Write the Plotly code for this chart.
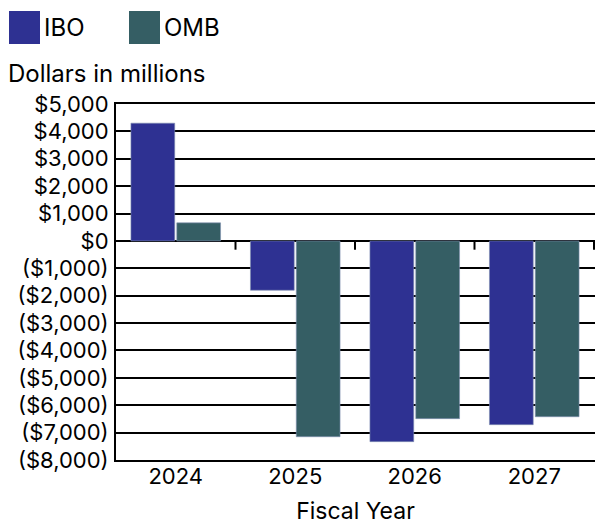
import plotly.graph_objects as go

years = ["2024", "2025", "2026", "2027"]
ibo = [4300, -1800, -7330, -6710]
omb = [660, -7150, -6490, -6420]
series_names = ["IBO", "OMB"]
series_colors = ["#2E3192", "#355E64"]
tick_vals = [5000, 4000, 3000, 2000, 1000, 0, -1000, -2000, -3000, -4000, -5000, -6000, -7000, -8000]
tick_labels = ["$5,000", "$4,000", "$3,000", "$2,000", "$1,000", "$0", "($1,000)", "($2,000)",
               "($3,000)", "($4,000)", "($5,000)", "($6,000)", "($7,000)", "($8,000)"]
boundary_ticks = [0.5, 1.5, 2.5, 3.5]

FONT = "Inter"
W, H = 597, 525
L, R, T, B = 116, 2, 104, 65
PW, PH = W - L - R, H - T - B
Y_MIN, Y_MAX = -8000, 5000


def px(x):
    return (x - L) / PW


def py(y):
    return (H - B - y) / PH


fig = go.Figure()
for name, vals, col in zip(series_names, [ibo, omb], series_colors):
    fig.add_trace(go.Bar(x=years, y=vals, name=name, marker_color=col,
                         marker_line=dict(color="#7f8fb0", width=0.6), showlegend=False))

shapes = []
# short ticks hanging from the zero line at the category boundaries
for b in boundary_ticks:
    shapes.append(dict(type="line", xref="x", yref="y", x0=b, x1=b, y0=0, y1=-320,
                       line=dict(color="black", width=2), layer="above"))
annotations = []
leg_x = [9, 129]
for i, (name, col) in enumerate(zip(series_names, series_colors)):
    x0 = leg_x[i]
    shapes.append(dict(type="rect", xref="paper", yref="paper",
                       x0=px(x0), x1=px(x0 + 31), y0=py(44), y1=py(11),
                       fillcolor=col, line=dict(width=0)))
    annotations.append(dict(text=name, xref="paper", yref="paper",
                            x=px(x0 + 33), y=py(28),
                            xanchor="left", yanchor="middle", showarrow=False,
                            font=dict(family=FONT, size=24, color="black")))
annotations.append(dict(text="Dollars in millions", xref="paper", yref="paper",
                        x=px(6), y=py(74),
                        xanchor="left", yanchor="middle", showarrow=False,
                        font=dict(family=FONT, size=24, color="black")))

fig.update_layout(
    width=W, height=H,
    margin=dict(l=L, r=R, t=T, b=B),
    paper_bgcolor="white", plot_bgcolor="white",
    barmode="group", bargap=0.233, bargroupgap=0.045,
    font=dict(family=FONT, size=22, color="black"),
    shapes=shapes, annotations=annotations,
    xaxis=dict(showline=True, mirror=True, linecolor="black", linewidth=2, ticks="", showgrid=False,
               tickfont=dict(size=22), ticklabelstandoff=-4,
               title=dict(text="Fiscal Year", font=dict(size=23), standoff=14)),
    yaxis=dict(range=[Y_MIN, Y_MAX], tickvals=tick_vals, ticktext=tick_labels,
               showgrid=True, gridcolor="black", gridwidth=2, zeroline=True, zerolinecolor="black",
               zerolinewidth=2, showline=True, linecolor="black", linewidth=2, ticks="",
               tickfont=dict(size=22), ticklabelstandoff=1),
)
fig.write_html("out.html")
